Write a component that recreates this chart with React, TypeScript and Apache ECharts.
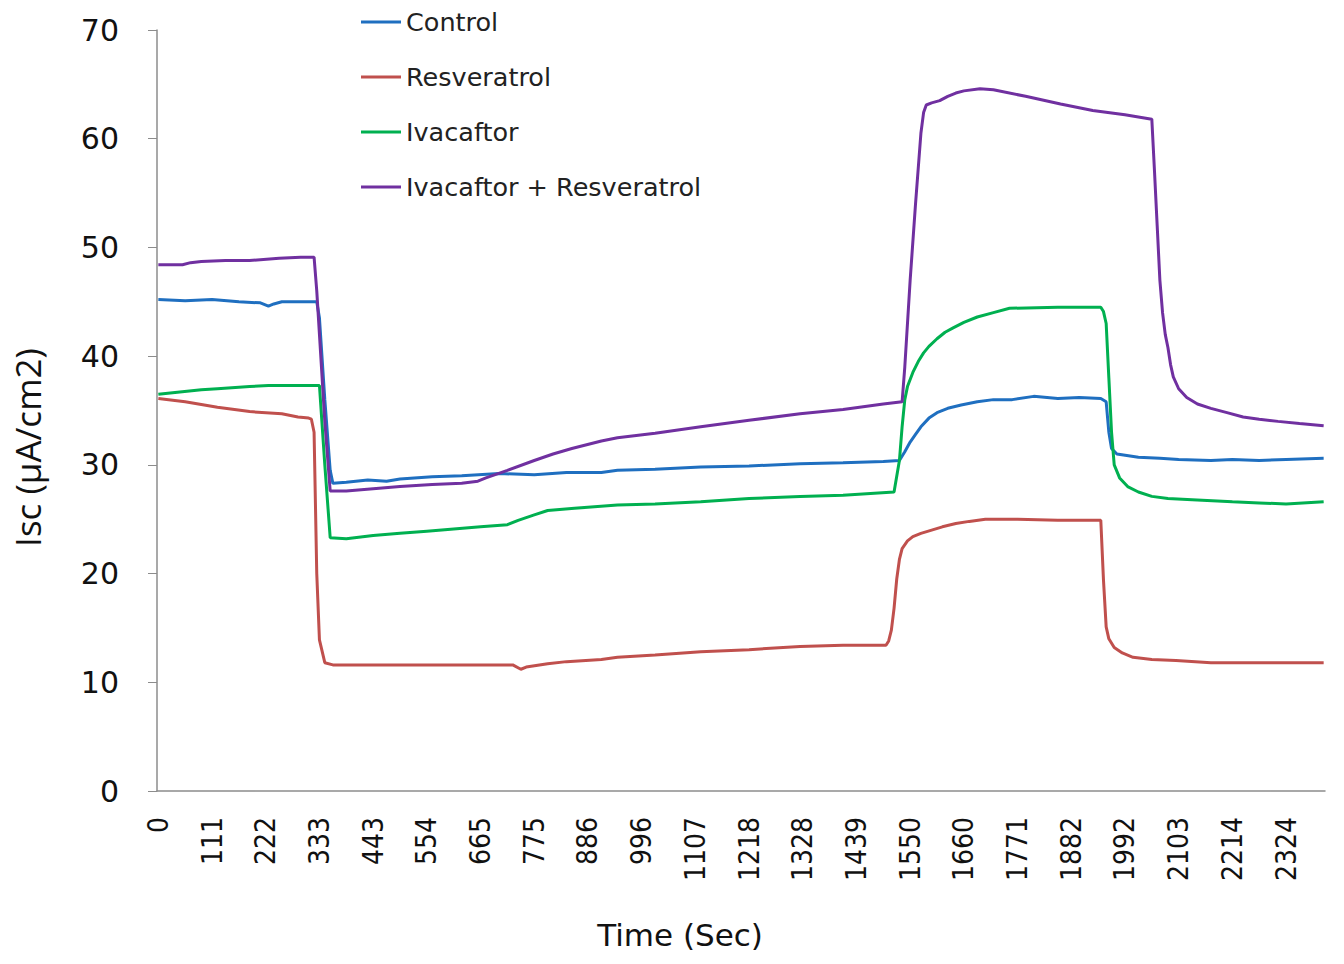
import React, { useEffect, useRef } from "react";
import * as echarts from "echarts";

// X tick labels (Time, s) shown every 20th category
const tickLabels = ["0", "111", "222", "333", "443", "554", "665", "775", "886", "996", "1107", "1218", "1328", "1439", "1550", "1660", "1771", "1882", "1992", "2103", "2214", "2324"];
const categoryCount = 435;
const labelEvery = 20;

const seriesNames = ["Control", "Resveratrol", "Ivacaftor", "Ivacaftor + Resveratrol"];
const seriesColors = ["#1f6fc0", "#c0504d", "#00b050", "#7030a0"];

// Control (category index, value)
const controlIdx = [0, 10, 20, 30, 38, 41, 43, 46, 52, 59, 60, 62, 64, 65, 70, 78, 85, 90, 102, 113, 127, 140, 152, 165, 171, 185, 202, 220, 239, 255, 270, 276, 278, 280, 282, 284, 287, 290, 294, 299, 305, 311, 318, 326, 335, 343, 351, 353, 354, 355, 357, 365, 373, 380, 392, 400, 410, 420, 434];
const controlVal = [45.2, 45.1, 45.2, 45.0, 44.9, 44.6, 44.8, 45.0, 45.0, 45.0, 43.5, 36.0, 29.5, 28.3, 28.4, 28.6, 28.5, 28.7, 28.9, 29.0, 29.2, 29.1, 29.3, 29.3, 29.5, 29.6, 29.8, 29.9, 30.1, 30.2, 30.3, 30.4, 31.2, 32.1, 32.8, 33.5, 34.3, 34.8, 35.2, 35.5, 35.8, 36.0, 36.0, 36.3, 36.1, 36.2, 36.1, 35.8, 33.0, 31.5, 31.0, 30.7, 30.6, 30.5, 30.4, 30.5, 30.4, 30.5, 30.6];

// Resveratrol
const resvIdx = [0, 10, 22, 34, 46, 52, 56, 57, 58, 59, 60, 62, 65, 69, 90, 110, 132, 135, 137, 145, 152, 165, 171, 185, 202, 220, 239, 255, 271, 272, 273, 274, 275, 276, 277, 279, 281, 284, 288, 292, 297, 302, 308, 320, 335, 351, 352, 353, 354, 356, 359, 363, 370, 379, 392, 434];
const resvVal = [36.1, 35.8, 35.3, 34.9, 34.7, 34.4, 34.3, 34.2, 33.0, 20.0, 13.9, 11.8, 11.6, 11.6, 11.6, 11.6, 11.6, 11.2, 11.4, 11.7, 11.9, 12.1, 12.3, 12.5, 12.8, 13.0, 13.3, 13.4, 13.4, 13.8, 14.8, 16.8, 19.5, 21.3, 22.3, 23.0, 23.4, 23.7, 24.0, 24.3, 24.6, 24.8, 25.0, 25.0, 24.9, 24.9, 19.4, 15.1, 14.0, 13.2, 12.7, 12.3, 12.1, 12.0, 11.8, 11.8];

// Ivacaftor
const ivaIdx = [0, 8, 16, 22, 34, 41, 60, 62, 64, 70, 80, 90, 100, 110, 120, 130, 134, 140, 145, 155, 171, 185, 202, 220, 239, 255, 274, 276, 277, 278, 279, 281, 283, 285, 287, 290, 293, 296, 300, 305, 311, 317, 335, 351, 352, 353, 354, 355, 356, 358, 361, 365, 370, 376, 385, 400, 410, 420, 434];
const ivaVal = [36.5, 36.7, 36.9, 37.0, 37.2, 37.3, 37.3, 30.0, 23.3, 23.2, 23.5, 23.7, 23.9, 24.1, 24.3, 24.5, 24.9, 25.4, 25.8, 26.0, 26.3, 26.4, 26.6, 26.9, 27.1, 27.2, 27.5, 30.4, 33.5, 36.0, 37.2, 38.5, 39.5, 40.3, 40.9, 41.6, 42.2, 42.6, 43.1, 43.6, 44.0, 44.4, 44.5, 44.5, 44.1, 43.0, 38.0, 33.0, 30.0, 28.8, 28.0, 27.5, 27.1, 26.9, 26.8, 26.6, 26.5, 26.4, 26.6];

// Ivacaftor + Resveratrol
const comboIdx = [0, 9, 12, 16, 25, 34, 45, 53, 58, 59, 62, 64, 70, 80, 90, 102, 113, 119, 122, 130, 140, 147, 154, 165, 171, 185, 202, 220, 239, 255, 270, 277, 278, 280, 282, 284, 285, 286, 288, 291, 294, 297, 300, 306, 311, 323, 336, 348, 360, 370, 371, 372, 373, 374, 375, 376, 377, 378, 380, 383, 387, 392, 398, 404, 410, 417, 425, 434];
const comboVal = [48.4, 48.4, 48.6, 48.7, 48.8, 48.8, 49.0, 49.1, 49.1, 46.0, 34.0, 27.6, 27.6, 27.8, 28.0, 28.2, 28.3, 28.5, 28.8, 29.5, 30.4, 31.0, 31.5, 32.2, 32.5, 32.9, 33.5, 34.1, 34.7, 35.1, 35.6, 35.8, 39.0, 47.0, 54.0, 60.5, 62.4, 63.1, 63.3, 63.5, 63.9, 64.2, 64.4, 64.6, 64.5, 63.9, 63.2, 62.6, 62.2, 61.8, 57.0, 52.0, 47.0, 44.0, 42.0, 40.8, 39.2, 38.1, 37.0, 36.2, 35.6, 35.2, 34.8, 34.4, 34.2, 34.0, 33.8, 33.6];

const yTicks = { min: 0, max: 70, interval: 10 };

function pairs(idx: number[], val: number[]) {
  return idx.map((x, k) => [x, val[k]]);
}

export default function App() {
  const ref = useRef<HTMLDivElement>(null);
  useEffect(() => {
    document.body.style.margin = "0";
    if (!ref.current) return;
    const chart = echarts.init(ref.current, null, { renderer: "svg" });
    const categories: string[] = [];
    for (let i = 0; i < categoryCount; i++) {
      if (i % labelEvery === 0 && tickLabels[i / labelEvery] !== undefined) {
        categories.push(tickLabels[i / labelEvery]);
      } else {
        const k = Math.floor(i / labelEvery);
        const a = Number(tickLabels[Math.min(k, tickLabels.length - 1)]);
        categories.push(String(Math.round(a + (i - k * labelEvery) * 5.535)));
      }
    }
    const data = [pairs(controlIdx, controlVal), pairs(resvIdx, resvVal), pairs(ivaIdx, ivaVal), pairs(comboIdx, comboVal)];
    chart.setOption({
      animation: false,
      backgroundColor: "#ffffff",
      grid: { left: 157, right: 19, top: 30, bottom: 173, containLabel: false },
      legend: {
        orient: "vertical",
        left: 361,
        top: 9,
        padding: 0,
        icon: "rect",
        itemWidth: 40,
        itemHeight: 3,
        itemGap: 29,
        data: seriesNames,
        textStyle: { fontFamily: "DejaVu Sans", fontSize: 25.5, color: "#222", lineHeight: 25 },
      },
      xAxis: {
        type: "category",
        data: categories,
        boundaryGap: true,
        name: "Time (Sec)",
        nameLocation: "middle",
        nameGap: 128,
        nameTextStyle: { fontFamily: "DejaVu Sans", fontSize: 31, color: "#111", padding: [0, 122, 0, 0] },
        axisLine: { lineStyle: { color: "#8c8c8c", width: 1.5 } },
        axisTick: { interval: 0, length: 10, lineStyle: { color: "#8c8c8c", width: 1 } },
        axisLabel: {
          interval: labelEvery - 1,
          rotate: 90,
          margin: 26,
          fontFamily: "Liberation Sans Narrow, DejaVu Sans Condensed, sans-serif",
          fontSize: 28,
          color: "#111",
        },
        splitLine: { show: false },
      },
      yAxis: {
        type: "value",
        min: yTicks.min,
        max: yTicks.max,
        interval: yTicks.interval,
        name: "Isc (µA/cm2)",
        nameLocation: "middle",
        nameGap: 112,
        nameTextStyle: { fontFamily: "Open Sans", fontSize: 35, color: "#111", padding: [0, 74, 0, 0] },
        axisLine: { show: true, lineStyle: { color: "#8c8c8c", width: 1.5 } },
        axisTick: { show: true, length: 9, lineStyle: { color: "#8c8c8c" } },
        axisLabel: { margin: 38, fontFamily: "DejaVu Sans", fontSize: 30, color: "#111" },
        splitLine: { show: false },
      },
      series: seriesNames.map((n, k) => ({
        name: n,
        type: "line",
        data: data[k],
        showSymbol: false,
        symbol: "none",
        color: seriesColors[k],
        lineStyle: { color: seriesColors[k], width: 3 },
      })),
    });
    return () => chart.dispose();
  }, []);
  return <div ref={ref} style={{ width: 1344, height: 964 }} />;
}
